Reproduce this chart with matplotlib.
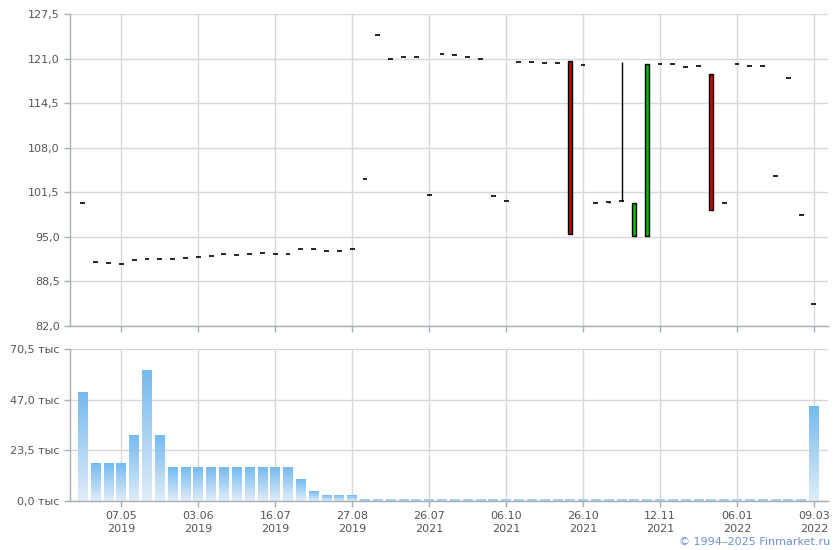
import matplotlib
matplotlib.use("Agg")
import matplotlib.pyplot as plt
import numpy as np
from matplotlib.colors import LinearSegmentedColormap

# candle data (one candle per trading session, evenly spaced)
close_px = [100.0, 91.3, 91.2, 91.1, 91.6, 91.8, 91.7, 91.7, 91.9, 92.1,
            92.2, 92.5, 92.4, 92.5, 92.6, 92.5, 92.5, 93.2, 93.2, 93.0,
            93.0, 93.2, 103.4, 124.4, 121.0, 121.3, 121.3, 101.1, 121.6, 121.5,
            121.3, 121.0, 100.9, 100.3, 120.5, 120.5, 120.3, 120.3, 95.4, 120.1,
            100.0, 100.1, 100.3, 100.0, 120.2, 120.2, 120.2, 119.8, 119.9, 98.9,
            100.0, 120.2, 119.9, 119.9, 103.9, 118.2, 98.2, 85.2]
open_px = [100.0, 91.3, 91.2, 91.1, 91.6, 91.8, 91.7, 91.7, 91.9, 92.1,
           92.2, 92.5, 92.4, 92.5, 92.6, 92.5, 92.5, 93.2, 93.2, 93.0,
           93.0, 93.2, 103.4, 124.4, 121.0, 121.3, 121.3, 101.1, 121.6, 121.5,
           121.3, 121.0, 100.9, 100.3, 120.5, 120.5, 120.3, 120.3, 120.6, 120.1,
           100.0, 100.1, 100.3, 95.1, 95.1, 120.2, 120.2, 119.8, 119.9, 118.7,
           100.0, 120.2, 119.9, 119.9, 103.9, 118.2, 98.2, 85.2]
high_extra = {41: 100.1, 42: 120.5}
low_extra = {41: 99.9}

volume_k = [50.5, 17.3, 17.3, 17.3, 30.3, 60.5, 30.3, 15.6, 15.6, 15.6,
            15.6, 15.6, 15.6, 15.6, 15.6, 15.6, 15.6, 9.9, 4.3, 2.5,
            2.5, 2.5, 0.6, 0.6, 0.6, 0.6, 0.6, 0.6, 0.6, 0.6,
            0.6, 0.6, 0.6, 0.6, 0.6, 0.6, 0.6, 0.6, 0.6, 0.6,
            0.6, 0.6, 0.6, 0.6, 0.6, 0.6, 0.6, 0.6, 0.6, 0.6,
            0.6, 0.6, 0.6, 0.6, 0.6, 0.6, 0.6, 43.8]

tick_idx = [3, 9, 15, 21, 27, 33, 39, 45, 51, 57]
tick_labels = ['07.05\n2019', '03.06\n2019', '16.07\n2019', '27.08\n2019',
               '26.07\n2021', '06.10\n2021', '26.10\n2021', '12.11\n2021',
               '06.01\n2022', '09.03\n2022']
price_ticks = [82.0, 88.5, 95.0, 101.5, 108.0, 114.5, 121.0, 127.5]
vol_ticks = [0.0, 23.5, 47.0, 70.5]

GRID = '#d3d8dd'
AXIS = '#a6adb5'
TXT = '#555555'
XLIM = (-1.0, 58.1)

fig = plt.figure(figsize=(8.4, 5.5), dpi=100)
ax = fig.add_axes([70 / 840, 1 - 326 / 550, 758 / 840, 312 / 550])
axv = fig.add_axes([70 / 840, 1 - 501 / 550, 758 / 840, 152 / 550])

for a in (ax, axv):
    a.set_xlim(*XLIM)
    for s in ('top', 'right'):
        a.spines[s].set_visible(False)
    for s in ('left', 'bottom'):
        a.spines[s].set_color(AXIS)
        a.spines[s].set_linewidth(1)
    a.set_axisbelow(True)
    a.grid(True, color=GRID, linewidth=1)
    a.tick_params(colors=AXIS, labelcolor=TXT, labelsize=8, length=4, width=1)
    a.set_xticks(tick_idx)

# candles
x = np.arange(len(close_px))
for i in x:
    o, c = open_px[i], close_px[i]
    hi = high_extra.get(i, max(o, c))
    lo = low_extra.get(i, min(o, c))
    if hi > max(o, c) or lo < min(o, c):
        ax.vlines(i, lo, hi, color='black', linewidth=1, zorder=3)
    if o == c:
        ax.hlines(c, i - 0.19, i + 0.19, color='black', linewidth=1.2, zorder=4)
    else:
        col = '#00bb00' if c > o else '#cc0000'
        ax.bar(i, abs(c - o), bottom=min(o, c), width=0.32, color=col,
               edgecolor='black', linewidth=1, zorder=4)

ax.set_ylim(82.0, 127.5)
ax.set_yticks(price_ticks)
ax.set_yticklabels([f'{v:.1f}'.replace('.', ',') for v in price_ticks])
ax.set_xticklabels([])

# volume bars with vertical gradient
cmap = LinearSegmentedColormap.from_list('vol', ['#e1edf9', '#74baf0'])
flat = LinearSegmentedColormap.from_list('t', ['#a8d0f3', '#a8d0f3'])
grad = np.linspace(0, 1, 256).reshape(-1, 1)
w = 0.76
for i, v in enumerate(volume_k):
    axv.imshow(grad, extent=[i - w / 2, i + w / 2, 0, v], origin='lower',
               aspect='auto', cmap=cmap if v > 1 else flat, zorder=2)
axv.set_xlim(*XLIM)
axv.set_ylim(0, 70.5)
axv.set_yticks(vol_ticks)
axv.set_yticklabels([f'{v:.1f}'.replace('.', ',') + ' тыс' for v in vol_ticks])
axv.set_xticklabels(tick_labels, linespacing=1.3)

fig.text(830 / 840, 1 - 542 / 550, '© 1994–2025 Finmarket.ru', color='#6f8fd0',
         fontsize=8, ha='right', va='center')

fig.savefig('out.png', dpi=100)
